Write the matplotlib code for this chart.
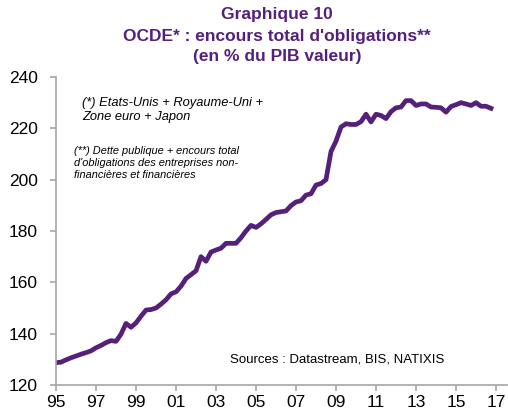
import numpy as np
import matplotlib
matplotlib.use("Agg")
import matplotlib.pyplot as plt

plt.rcParams['font.family'] = ['Liberation Sans', 'DejaVu Sans']

# quarterly series, 1995 Q1 onward (% of nominal GDP)
ratio = [128.7, 128.9, 129.8, 130.6, 131.3, 132.0, 132.6, 133.3, 134.5, 135.4,
         136.5, 137.3, 137.0, 139.8, 144.0, 142.5, 144.2, 146.8, 149.2, 149.4,
         150.0, 151.5, 153.2, 155.5, 156.3, 158.5, 161.5, 163.0, 164.5, 170.0,
         168.2, 171.8, 172.6, 173.3, 175.2, 175.2, 175.2, 177.4, 180.0, 182.2,
         181.4, 182.8, 184.5, 186.3, 187.2, 187.5, 187.8, 189.9, 191.3, 191.8,
         194.0, 194.5, 197.9, 198.5, 200.0, 211.0, 215.0, 220.5, 221.8, 221.5,
         221.5, 222.6, 225.5, 222.5, 225.5, 225.0, 223.8, 226.5, 228.0, 228.3,
         230.8, 230.8, 228.9, 229.5, 229.5, 228.3, 228.2, 228.0, 226.3, 228.5,
         229.2, 230.0, 229.5, 228.9, 230.0, 228.6, 228.6, 227.8]
dates = [1995 + 0.25 * i for i in range(len(ratio))]

tick_years = list(range(1995, 2018, 2))
tick_labels = ["%02d" % (y % 100) for y in tick_years]
y_ticks = [120, 140, 160, 180, 200, 220, 240]

purple = "#55207A"
grey = "#A6A6A6"

fig = plt.figure(figsize=(5.08, 4.17), dpi=100)
ax = fig.add_axes([56 / 508, 1 - 385 / 417, 1 - 56 / 508, (385 - 77) / 417])
ax.plot(dates, ratio, color=purple, lw=3.4, solid_joinstyle='round')

ax.set_xlim(1995, 2017.6)
ax.set_ylim(120, 240)
ax.set_xticks(tick_years)
ax.set_xticklabels(tick_labels)
ax.set_yticks(y_ticks)
for s in ['top', 'right']:
    ax.spines[s].set_visible(False)
for s in ['left', 'bottom']:
    ax.spines[s].set_color(grey)
    ax.spines[s].set_linewidth(1.2)
ax.tick_params(colors=grey, length=4, width=1.2, labelsize=12.5, labelcolor='black')
ax.tick_params(axis='y', pad=9)
ax.tick_params(axis='x', pad=3)

fig.text(0.545, 1 - 14 / 417, "Graphique 10", ha='center', va='center',
         fontsize=12.5, fontweight='bold', color=purple)
fig.text(0.545, 1 - 36 / 417, "OCDE* : encours total d'obligations**", ha='center',
         va='center', fontsize=12.5, fontweight='bold', color=purple)
fig.text(0.545, 1 - 56 / 417, "(en % du PIB valeur)", ha='center', va='center',
         fontsize=12.5, fontweight='bold', color=purple)

fig.text(82 / 508, 1 - 110 / 417, "(*) Etats-Unis + Royaume-Uni +\nZone euro + Japon",
         ha='left', va='center', fontsize=9.3, style='italic', linespacing=1.25)
fig.text(74 / 508, 1 - 163 / 417,
         "(**) Dette publique + encours total\nd'obligations des entreprises non-\nfinancières et financières",
         ha='left', va='center', fontsize=7.9, style='italic', linespacing=1.2)
fig.text(230 / 508, 1 - 360 / 417, "Sources : Datastream, BIS, NATIXIS",
         ha='left', va='center', fontsize=9.5)

fig.savefig("out.png", dpi=100)
